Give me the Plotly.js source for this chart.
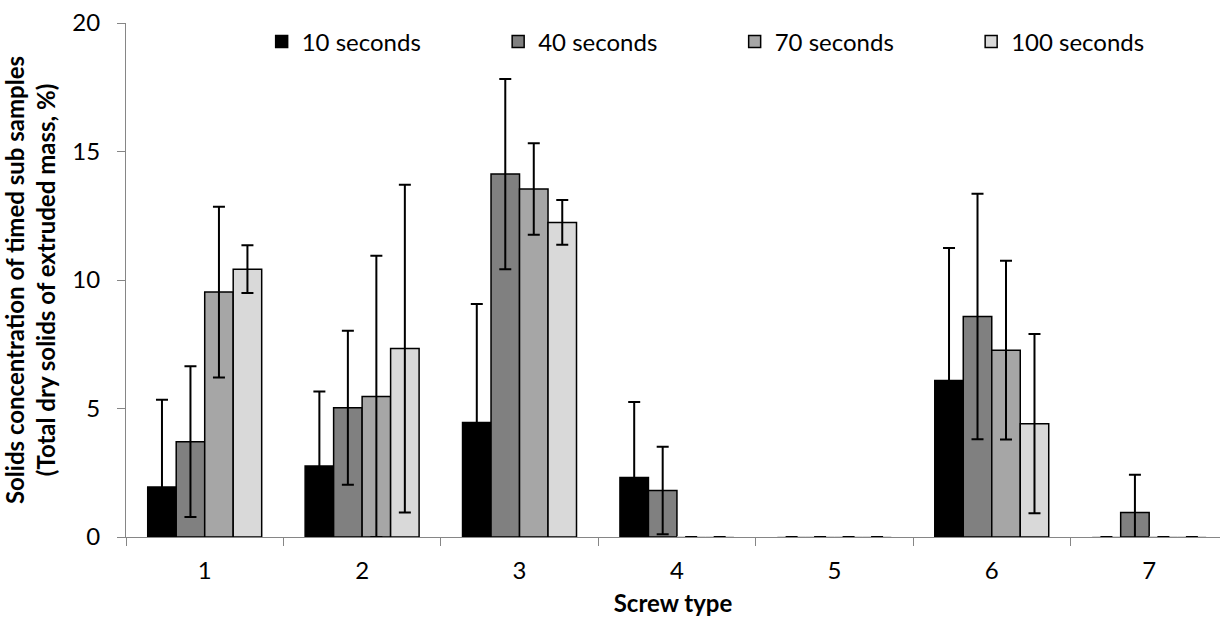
<!DOCTYPE html>
<html>
<head>
<meta charset="utf-8">
<script src="https://cdn.plot.ly/plotly-3.0.1.min.js"></script>
<style>
html,body{margin:0;padding:0;background:#fff;}
#chart{width:1220px;height:626px;}
</style>
</head>
<body>
<div id="chart"></div>
<script>
const categories = ['1','2','3','4','5','6','7'];
const seriesNames = ['10 seconds','40 seconds','70 seconds','100 seconds'];
const s10  = [1.95, 2.76, 4.46, 2.32, 0, 6.09, 0];
const e10  = [3.39, 2.90, 4.61, 2.93, null, 5.16, null];
const s40  = [3.71, 5.03, 14.12, 1.81, 0, 8.58, 0.95];
const e40  = [2.93, 3.00, 3.70, 1.70, null, 4.78, 1.47];
const s70  = [9.53, 5.47, 13.54, 0, 0, 7.27, 0];
const e70  = [3.32, 5.47, 1.78, null, null, 3.48, null];
const s100 = [10.42, 7.33, 12.24, 0, 0, 4.41, 0];
const e100 = [0.93, 6.38, 0.87, null, null, 3.49, null];
const yTicks = [0, 5, 10, 15, 20];

const colors = ['#000000', '#808080', '#a6a6a6', '#d9d9d9'];
const values = [s10, s40, s70, s100];
const errors = [e10, e40, e70, e100];

const FONT = 'Lato, "Open Sans", sans-serif';

const traces = values.map((v, i) => ({
  type: 'bar',
  name: seriesNames[i],
  x: categories,
  y: v,
  marker: {color: colors[i], line: {color: v.map(d => d === 0 ? '#c8c8c8' : '#000000'), width: 1.5}},
  error_y: {type: 'data', array: errors[i], visible: true, color: '#000000', thickness: 2, width: 6},
  hoverinfo: 'y'
}));

const layout = {
  width: 1220,
  height: 626,
  margin: {l: 126, r: 0, t: 23, b: 89},
  paper_bgcolor: '#ffffff',
  plot_bgcolor: '#ffffff',
  font: {family: FONT, size: 24, color: '#000000'},
  barmode: 'group',
  bargap: 0.276,
  bargroupgap: 0,
  showlegend: true,
  legend: {
    orientation: 'h',
    x: 0.124, xanchor: 'left',
    y: 0.963, yanchor: 'middle',
    entrywidth: 191.5, entrywidthmode: 'pixels',
    font: {family: FONT, size: 24, color: '#000000'},
    bgcolor: 'rgba(0,0,0,0)',
    traceorder: 'normal'
  },
  xaxis: {
    type: 'category',
    range: [-0.5, 6.45],
    showline: true, linecolor: '#868686', linewidth: 1,
    ticks: 'outside', tickson: 'boundaries', ticklen: 8, tickcolor: '#868686', tickwidth: 1,
    showgrid: false, zeroline: false,
    tickfont: {family: FONT, size: 24, color: '#000000'},
    ticklabelstandoff: 12,
    title: {text: '<b>Screw type</b>', font: {family: FONT, size: 24, color: '#000000'}, standoff: 12},
    automargin: false,
    fixedrange: true
  },
  yaxis: {
    range: [0, 20],
    tickvals: yTicks,
    showline: true, linecolor: '#868686', linewidth: 1,
    ticks: 'outside', ticklen: 8, tickcolor: '#868686', tickwidth: 1,
    showgrid: false, zeroline: false,
    tickfont: {family: FONT, size: 24, color: '#000000'},
    ticklabelstandoff: 12,
    title: {text: '<b>Solids concentration of timed sub samples<br>(Total dry solids of extruded mass, %)</b>', font: {family: FONT, size: 24, color: '#000000'}, standoff: 15},
    automargin: false,
    fixedrange: true
  }
};

Plotly.newPlot('chart', traces, layout, {displayModeBar: false, staticPlot: true});
</script>
</body>
</html>
